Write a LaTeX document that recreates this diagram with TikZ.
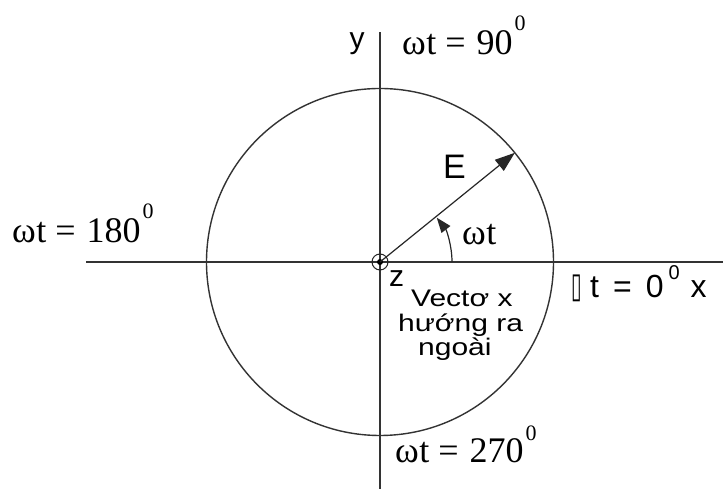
\documentclass[tikz,border=0pt]{standalone}
\usepackage{fontspec}
\setmainfont{Liberation Serif}
\newfontfamily\sansf{Liberation Sans}
\newfontfamily\dejavuf{DejaVu Sans}
\usetikzlibrary{arrows.meta}
\newcommand\degz[2]{\raisebox{#1}{\fontsize{#2}{#2}\selectfont 0}}
\newcommand\wteq{ω\hspace{0.5pt}t\hspace{9pt}=\hspace{11pt}}
\begin{document}
\begin{tikzpicture}[x=1pt,y=1pt,
  axis/.style={line width=1.4pt, draw=black!80},
  ring/.style={line width=1.4pt, draw=black!80},
  seriflab/.style={font=\fontsize{36}{40}\selectfont, inner sep=0pt},
  sanslab/.style={font=\sansf\fontsize{30}{36}\selectfont, inner sep=0pt},
  vtext/.style={font=\sansf\fontsize{24}{25}\selectfont, inner sep=0pt, anchor=base west},
  vec/.style={line width=1.2pt, draw=black!85},
]
\useasboundingbox[fill=white] (0,0) rectangle (723,489);
\coordinate (O) at (380,227);
\coordinate (ytop) at (380,457);
\coordinate (ybot) at (380,0);
\coordinate (xl) at (86,227);
\coordinate (xr) at (723,227);
\draw[axis] (ybot) -- (ytop);
\draw[axis] (xl) -- (xr);
\draw[ring] (O) circle (173.5);
\node[circle, draw=black!85, line width=1pt, minimum size=16pt, inner sep=0pt] (oc) at (O) {};
\fill[black] (O) circle (3);
\coordinate (Etip) at ([shift={(39:173.5)}]O);
\coordinate (Astart) at ([shift={(0:72)}]O);
\draw[vec, -{Triangle[length=20pt,width=14pt]}] (O) -- (Etip);
\draw[vec, -{Triangle[length=15pt,width=11pt]}] (Astart) arc[start angle=0, end angle=38, radius=72];
% labels
\node[sanslab, anchor=base] (ylab) at (357,440) {y};
\node[seriflab, anchor=base west] (w90) at (402,434) {\wteq 90\hspace{2pt}\degz{24pt}{22}};
\node[seriflab, anchor=base west] (w180) at (12,246) {\wteq 180\hspace{2pt}\degz{24pt}{22}};
\node[seriflab, anchor=base west] (w270) at (395,26) {\wteq 270\hspace{2pt}\degz{22pt}{22}};
\node[sanslab, font=\sansf\fontsize{34}{40}\selectfont, anchor=base west] (Elab) at (443,310) {E};
\node[seriflab, anchor=base west] (wt) at (462,244) {ω\hspace{0.5pt}t};
\node[sanslab, font=\sansf\fontsize{30}{32}\selectfont, anchor=base west] (zlab) at (389,202) {z};
\node[vtext] (v1) at (411,182) {\scalebox{1.25}[1]{Vectơ x}};
\node[vtext] (v2) at (398,157) {\scalebox{1.25}[1]{hướng ra}};
\node[vtext] (v3) at (418,133) {\scalebox{1.25}[1]{ngoài}};
\node[sanslab, font=\sansf\fontsize{32}{36}\selectfont, anchor=base west] (w0) at (571,191) {\makebox[19pt][l]{\dejavuf\scalebox{0.6}[1.1]{▯}}t\hspace{14pt}=\hspace{14pt}0\hspace{5pt}\degz{18pt}{20}\hspace{11pt}x};
\end{tikzpicture}
\end{document}
